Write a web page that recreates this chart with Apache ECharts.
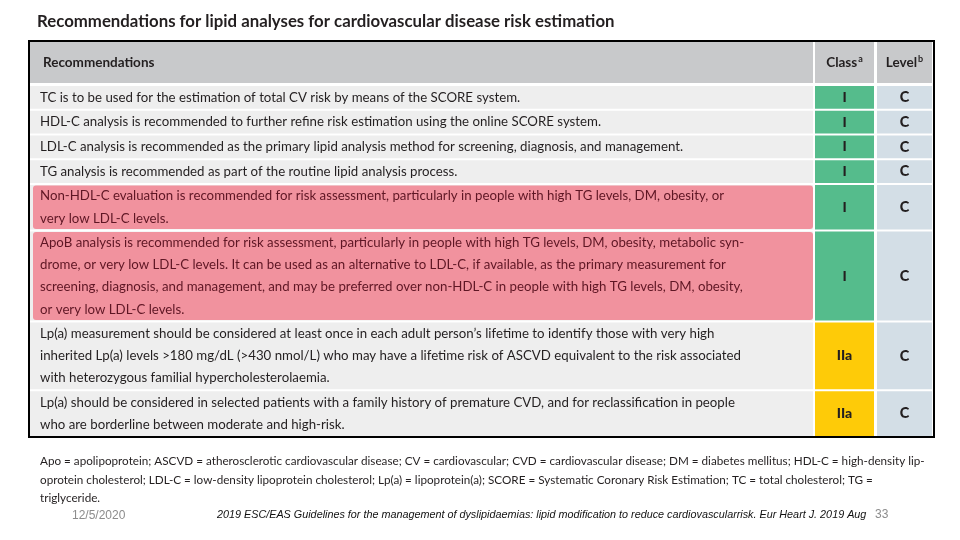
<!DOCTYPE html>
<html><head><meta charset="utf-8">
<script src="https://cdn.jsdelivr.net/npm/echarts@6/dist/echarts.min.js"></script>
<style>html,body{margin:0;padding:0;background:#fff}#c{width:960px;height:540px}</style>
</head><body><div id="c"></div>
<script>
const chartTitle = 'Recommendations for lipid analyses for cardiovascular disease risk estimation';
const headerLabels = ['Recommendations', 'Class', 'Level'];
const headerSups = ['', 'a', 'b'];
const recommendations = [
  ['TC is to be used for the estimation of total CV risk by means of the SCORE system.'],
  ['HDL-C analysis is recommended to further refine risk estimation using the online SCORE system.'],
  ['LDL-C analysis is recommended as the primary lipid analysis method for screening, diagnosis, and management.'],
  ['TG analysis is recommended as part of the routine lipid analysis process.'],
  ['Non-HDL-C evaluation is recommended for risk assessment, particularly in people with high TG levels, DM, obesity, or',
   'very low LDL-C levels.'],
  ['ApoB analysis is recommended for risk assessment, particularly in people with high TG levels, DM, obesity, metabolic syn-',
   'drome, or very low LDL-C levels. It can be used as an alternative to LDL-C, if available, as the primary measurement for',
   'screening, diagnosis, and management, and may be preferred over non-HDL-C in people with high TG levels, DM, obesity,',
   'or very low LDL-C levels.'],
  ['Lp(a) measurement should be considered at least once in each adult person\u2019s lifetime to identify those with very high',
   'inherited Lp(a) levels >180 mg/dL (>430 nmol/L) who may have a lifetime risk of ASCVD equivalent to the risk associated',
   'with heterozygous familial hypercholesterolaemia.'],
  ['Lp(a) should be considered in selected patients with a family history of premature CVD, and for reclassification in people',
   'who are borderline between moderate and high-risk.']
];
const classes = ['I', 'I', 'I', 'I', 'I', 'I', 'IIa', 'IIa'];
const levels = ['C', 'C', 'C', 'C', 'C', 'C', 'C', 'C'];
const highlighted = [false, false, false, false, true, true, false, false];
const footnoteLines = [
  'Apo = apolipoprotein; ASCVD = atherosclerotic cardiovascular disease; CV = cardiovascular; CVD = cardiovascular disease; DM = diabetes mellitus; HDL-C = high-density lip-',
  'oprotein cholesterol; LDL-C = low-density lipoprotein cholesterol; Lp(a) = lipoprotein(a); SCORE = Systematic Coronary Risk Estimation; TC = total cholesterol; TG =',
  'triglyceride.'
];
const dateLabel = '12/5/2020';
const citation = '2019 ESC/EAS Guidelines for the management of dyslipidaemias: lipid modification to reduce cardiovascularrisk. Eur Heart J. 2019 Aug';
const pageNumber = '33';

// layout (axis units)
const HEADER_UNITS = 2.0;
const ROW_PAD = 0.12;
const COL_TEXT = [1, 784];
const COL_PINK = [4, 784];
const COL_CLASS = [786, 845];
const COL_LEVEL = [848, 903];
const X_MAX = 905;
const C = {
  header: '#c8c9cb', row: '#eeeeee', pink: '#f1929e', green: '#55bc8c',
  yellow: '#fecb08', blue: '#d3dee6', text: '#231f20', pinkText: '#5e1624'
};
const FONT = 'Lato';

// build rows with cumulative extents
const rows = [];
let cursor = HEADER_UNITS;
recommendations.forEach((lines, i) => {
  const h = lines.length + ROW_PAD;
  rows.push([i, cursor, cursor + h]);
  cursor += h;
});
const Y_MAX = cursor;

function cellRect(api, xr, y0, y1, insetY) {
  const p0 = api.coord([xr[0], y0]);
  const p1 = api.coord([xr[1], y1]);
  return { x: p0[0], y: p0[1] + insetY, width: p1[0] - p0[0], height: p1[1] - p0[1] - 2 * insetY };
}

function renderRow(params, api) {
  const i = api.value(0), y0 = api.value(1), y1 = api.value(2);
  const children = [];
  const rText = cellRect(api, COL_TEXT, y0, y1, 1);
  children.push({ type: 'rect', shape: rText, style: { fill: C.row } });
  const isHi = highlighted[i];
  if (isHi) {
    const rp = cellRect(api, COL_PINK, y0, y1, 1.5);
    rp.r = 3;
    children.push({ type: 'rect', shape: rp, style: { fill: C.pink } });
  }
  const rc = cellRect(api, COL_CLASS, y0, y1, 1);
  children.push({ type: 'rect', shape: rc, style: { fill: classes[i] === 'I' ? C.green : C.yellow } });
  const rl = cellRect(api, COL_LEVEL, y0, y1, 1);
  children.push({ type: 'rect', shape: rl, style: { fill: C.blue } });
  const cy = rText.y + rText.height / 2;
  children.push({ type: 'text', style: {
    text: recommendations[i].join('\n'), x: rText.x + 10, y: cy,
    fill: isHi ? C.pinkText : C.text, fontFamily: FONT, fontSize: 13.25, lineHeight: 22.3,
    align: 'left', verticalAlign: 'middle' } });
  children.push({ type: 'text', style: {
    text: classes[i], x: rc.x + rc.width / 2, y: cy, fill: C.text, fontFamily: FONT,
    fontWeight: 900, fontSize: 14, align: 'center', verticalAlign: 'middle' } });
  children.push({ type: 'text', style: {
    text: levels[i], x: rl.x + rl.width / 2, y: cy, fill: C.text, fontFamily: FONT,
    fontWeight: 900, fontSize: 14.5, align: 'center', verticalAlign: 'middle' } });
  return { type: 'group', children };
}

function renderHeader(params, api) {
  const children = [];
  const cols = [COL_TEXT, COL_CLASS, COL_LEVEL];
  cols.forEach((xr, k) => {
    const p0 = api.coord([xr[0], 0]);
    const p1 = api.coord([xr[1], HEADER_UNITS]);
    const r = { x: p0[0], y: p0[1], width: p1[0] - p0[0], height: p1[1] - p0[1] - 2 };
    children.push({ type: 'rect', shape: r, style: { fill: C.header } });
    const cy = r.y + r.height / 2 + 1;
    children.push({ type: 'text', style: {
      text: '{m|' + headerLabels[k] + '}' + (headerSups[k] ? '{s|' + headerSups[k] + '}' : ''),
      rich: { m: { fontFamily: FONT, fontWeight: 'bold', fontSize: 13.5, fill: C.text },
              s: { fontFamily: FONT, fontWeight: 'bold', fontSize: 9, fill: C.text, verticalAlign: 'top', padding: [0,0,8,1] } },
      x: k === 0 ? r.x + 13 : r.x + r.width / 2, y: cy,
      align: k === 0 ? 'left' : 'center', verticalAlign: 'middle' } });
  });
  return { type: 'group', children };
}

const chart = echarts.init(document.getElementById('c'), null, { renderer: 'canvas' });
chart.setOption({
  animation: false,
  backgroundColor: '#ffffff',
  title: [
    { text: chartTitle, left: 37, top: 13, padding: 0, textStyle: { fontFamily: FONT, fontWeight: 'bold', fontSize: 16.8, color: C.text } },
    { text: footnoteLines.join('\n'), left: 40, top: 452, padding: 0, textStyle: { fontFamily: FONT, fontWeight: 'normal', fontSize: 11.7, lineHeight: 18.5, color: C.text } },
    { text: dateLabel, left: 72, top: 510, padding: 0, textStyle: { fontFamily: 'Liberation Sans', fontWeight: 'normal', fontSize: 12, color: '#8c8c8c' } },
    { text: citation, left: 217, top: 509, padding: 0, textStyle: { fontFamily: 'Liberation Sans', fontStyle: 'italic', fontWeight: 'normal', fontSize: 10.8, color: '#111' } },
    { text: pageNumber, left: 875, top: 509, padding: 0, textStyle: { fontFamily: 'Liberation Sans', fontWeight: 'normal', fontSize: 12, color: '#8c8c8c' } }
  ],
  grid: { left: 29, right: 26, top: 41, bottom: 103, show: true, borderColor: '#000', borderWidth: 2, backgroundColor: 'transparent', z: 10 },
  xAxis: { type: 'value', min: 0, max: X_MAX, show: false },
  yAxis: { type: 'value', min: 0, max: Y_MAX, inverse: true, show: false },
  series: [
    { type: 'custom', data: [[0]], renderItem: renderHeader, silent: true },
    { type: 'custom', data: rows, encode: { x: -1, y: [1, 2] }, renderItem: renderRow, silent: true }
  ]
});
</script></body></html>
